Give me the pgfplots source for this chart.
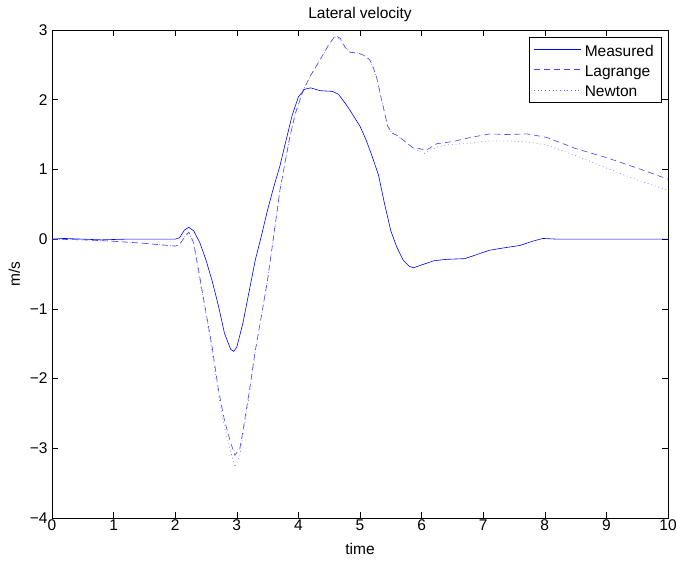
\documentclass[border=0pt]{standalone}
\usepackage{fontspec}
\setmainfont{Liberation Sans}
\usepackage{pgfplots}
\pgfplotsset{compat=1.18}

\pgfplotstableread{
x y
0 0
0.2 0.01
0.5 0.0
0.8 -0.01
1.2 0.0
2.0 0.0
2.07 0.02
2.15 0.13
2.22 0.17
2.3 0.12
2.4 -0.05
2.5 -0.3
2.6 -0.6
2.7 -0.95
2.8 -1.35
2.9 -1.58
2.95 -1.61
3.0 -1.55
3.1 -1.2
3.2 -0.75
3.3 -0.3
3.4 0.05
3.5 0.42
3.6 0.75
3.7 1.05
3.8 1.42
3.9 1.78
4.0 2.04
4.1 2.15
4.2 2.17
4.35 2.13
4.55 2.12
4.65 2.08
4.8 1.9
5.0 1.62
5.1 1.42
5.2 1.18
5.3 0.92
5.4 0.5
5.5 0.12
5.6 -0.12
5.7 -0.3
5.8 -0.39
5.87 -0.41
6.0 -0.37
6.2 -0.31
6.4 -0.29
6.7 -0.28
6.9 -0.22
7.1 -0.16
7.3 -0.13
7.6 -0.09
7.8 -0.03
7.97 0.01
8.2 0
10 0
}\measured

\pgfplotstableread{
x y
0 0
0.5 -0.01
1.0 -0.03
1.5 -0.06
2.0 -0.1
2.07 -0.08
2.15 0.03
2.22 0.1
2.3 -0.05
2.4 -0.55
2.5 -1.05
2.6 -1.55
2.7 -2.15
2.8 -2.6
2.9 -2.92
2.97 -3.1
3.05 -3.0
3.1 -2.75
3.2 -2.2
3.3 -1.6
3.4 -1.1
3.5 -0.58
3.6 0.05
3.7 0.7
3.8 1.18
3.86 1.46
3.95 1.8
4.08 2.14
4.2 2.35
4.35 2.57
4.5 2.8
4.6 2.92
4.68 2.88
4.76 2.75
4.84 2.68
4.97 2.67
5.08 2.63
5.16 2.57
5.22 2.45
5.27 2.32
5.35 2.0
5.45 1.62
5.52 1.52
5.6 1.49
5.76 1.38
5.86 1.31
5.97 1.30
6.05 1.27
6.12 1.3
6.25 1.37
6.51 1.40
6.8 1.46
7.11 1.51
7.4 1.5
7.71 1.51
8.03 1.46
8.5 1.3
9.0 1.17
9.5 1.02
10 0.86
}\lagrange

\pgfplotstableread{
x y
0 0
0.5 -0.01
1.0 -0.03
1.5 -0.06
2.0 -0.1
2.07 -0.08
2.15 0.03
2.22 0.1
2.3 -0.08
2.4 -0.6
2.5 -1.1
2.6 -1.62
2.7 -2.22
2.8 -2.7
2.9 -3.05
2.97 -3.27
3.05 -3.1
3.1 -2.82
3.2 -2.25
3.3 -1.62
3.4 -1.1
3.5 -0.58
3.6 0.05
3.7 0.7
3.8 1.18
3.86 1.46
3.95 1.8
4.08 2.14
4.2 2.35
4.35 2.57
4.5 2.8
4.6 2.9
4.68 2.86
4.76 2.75
4.84 2.68
4.97 2.67
5.08 2.62
5.16 2.56
5.22 2.45
5.27 2.32
5.35 2.0
5.45 1.62
5.52 1.52
5.6 1.49
5.76 1.38
5.86 1.3
5.97 1.26
6.05 1.23
6.15 1.28
6.25 1.32
6.41 1.35
6.8 1.38
7.11 1.41
7.4 1.41
7.76 1.39
8.03 1.35
8.5 1.2
9.0 1.02
9.5 0.85
10 0.7
}\newton

% strut giving every legend row the same height
\newcommand{\lgstrut}{\rule[-1pt]{0pt}{15.5pt}}

\begin{document}
\begin{tikzpicture}
\path[use as bounding box] (-52pt,-42pt) rectangle (625pt,518pt);
\begin{axis}[
  at={(0,0)}, anchor=south west,
  scale only axis,
  width=616pt, height=488pt,
  xmin=0, xmax=10, ymin=-4, ymax=3,
  xtick={0,1,...,10},
  ytick={-4,-3,-2,-1,0,1,2,3},
  yticklabels={−4,−3,−2,−1,0,1,2,3},
  /pgf/number format/assume math mode=true,
  tick align=inside,
  major tick length=6pt,
  tick style={black, line width=0.5pt},
  axis line style={line width=0.6pt},
  ticklabel style={font=\fontsize{15.5}{18}\selectfont},
  xticklabel style={yshift=2pt},
  yticklabel style={xshift=-1pt},
  title={Lateral velocity},
  title style={font=\fontsize{15.5}{18}\selectfont, yshift=-1pt},
  xlabel={time},
  ylabel={m/s},
  label style={font=\fontsize{15.5}{18}\selectfont},
  xlabel style={yshift=-6pt},
  ylabel style={yshift=3pt},
  legend cell align=left,
  legend style={at={(rel axis cs:0.9903,0.9857)}, anchor=north east,
    font=\fontsize{15.5}{18}\selectfont, draw=black, line width=0.6pt,
    inner xsep=4.5pt, inner ysep=4.3pt, row sep=4.2pt,
    nodes={inner ysep=0pt, inner xsep=3.5pt}},
  legend image code/.code={\draw[#1, line width=0.6pt] (0pt,0pt) -- (47pt,0pt);},
]
\addplot[blue, line width=0.6pt] table {\measured};
\addlegendentry{\lgstrut Measured}
\addplot[blue!75, line width=0.6pt, dash pattern=on 6pt off 4pt] table {\lagrange};
\addlegendentry{\lgstrut Lagrange}
\addplot[blue!60, line width=0.6pt, dash pattern=on 0.7pt off 3pt] table {\newton};
\addlegendentry{\lgstrut Newton}
\end{axis}
\end{tikzpicture}
\end{document}
